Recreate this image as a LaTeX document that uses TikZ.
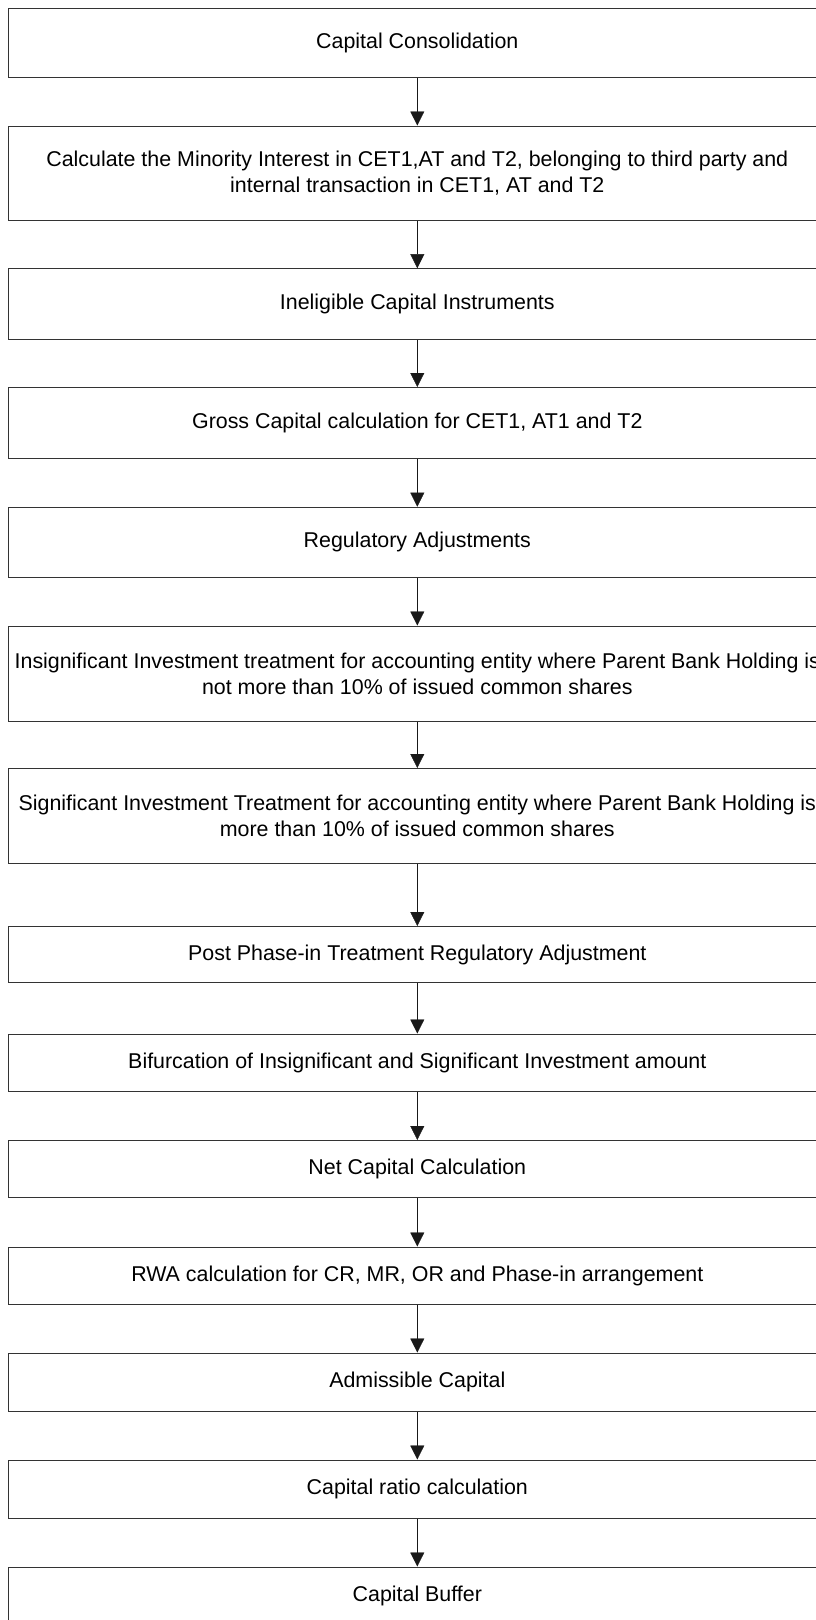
\documentclass[tikz,border=0pt]{standalone}
\usepackage{fontspec}
\setmainfont{Liberation Sans}
\usetikzlibrary{arrows.meta}
\tikzstyle{stepbox} = [draw=black!80, shape=rectangle, minimum width=818pt, align=center, inner sep=0pt, line width=1pt]
\newcommand{\wideline}[1]{\makebox[0pt]{#1}}

\begin{document}
\begin{tikzpicture}[x=1pt, y=1pt, >={Triangle[length=14pt,width=14pt]}, font=\fontsize{21.4}{25.8}\selectfont]
    \useasboundingbox (0,0) rectangle (815,-1620);
    \draw (417.3,-42.9) node[stepbox, minimum height=69pt] (cons) {Capital Consolidation};
    \draw (417.3,-173) node[stepbox, minimum height=94pt] (minor) {Calculate the Minority Interest in CET1,AT and T2, belonging to third party and\\internal transaction in CET1, AT and T2};
    \draw (417.3,-304.2) node[stepbox, minimum height=71pt] (inelig) {Ineligible Capital Instruments};
    \draw (417.3,-423) node[stepbox, minimum height=71pt] (gross) {Gross Capital calculation for CET1, AT1 and T2};
    \draw (417.3,-542.2) node[stepbox, minimum height=70pt] (regadj) {Regulatory Adjustments};
    \draw (417.3,-673.5) node[stepbox, minimum height=95pt] (insig) {\wideline{Insignificant Investment treatment for accounting entity where Parent Bank Holding is}\\not more than 10\% of issued common shares};
    \draw (417.3,-816) node[stepbox, minimum height=95pt] (sig) {\wideline{Significant Investment Treatment for accounting entity where Parent Bank Holding is}\\more than 10\% of issued common shares};
    \draw (417.3,-954.5) node[stepbox, minimum height=56pt] (post) {Post Phase-in Treatment Regulatory Adjustment};
    \draw (417.3,-1062.5) node[stepbox, minimum height=57pt] (bifur) {Bifurcation of Insignificant and Significant Investment amount};
    \draw (417.3,-1169) node[stepbox, minimum height=57pt] (net) {Net Capital Calculation};
    \draw (417.3,-1275.5) node[stepbox, minimum height=57pt] (rwa) {RWA calculation for CR, MR, OR and Phase-in arrangement};
    \draw (417.3,-1382) node[stepbox, minimum height=58pt] (admis) {Admissible Capital};
    \draw (417.3,-1489) node[stepbox, minimum height=58pt] (ratio) {Capital ratio calculation};
    \draw (417.3,-1596) node[stepbox, minimum height=58pt] (buffer) {Capital Buffer};
    \draw [->, draw=black!90] (cons) -- (minor);
    \draw [->, draw=black!90] (minor) -- (inelig);
    \draw [->, draw=black!90] (inelig) -- (gross);
    \draw [->, draw=black!90] (gross) -- (regadj);
    \draw [->, draw=black!90] (regadj) -- (insig);
    \draw [->, draw=black!90] (insig) -- (sig);
    \draw [->, draw=black!90] (sig) -- (post);
    \draw [->, draw=black!90] (post) -- (bifur);
    \draw [->, draw=black!90] (bifur) -- (net);
    \draw [->, draw=black!90] (net) -- (rwa);
    \draw [->, draw=black!90] (rwa) -- (admis);
    \draw [->, draw=black!90] (admis) -- (ratio);
    \draw [->, draw=black!90] (ratio) -- (buffer);
\end{tikzpicture}
\end{document}
